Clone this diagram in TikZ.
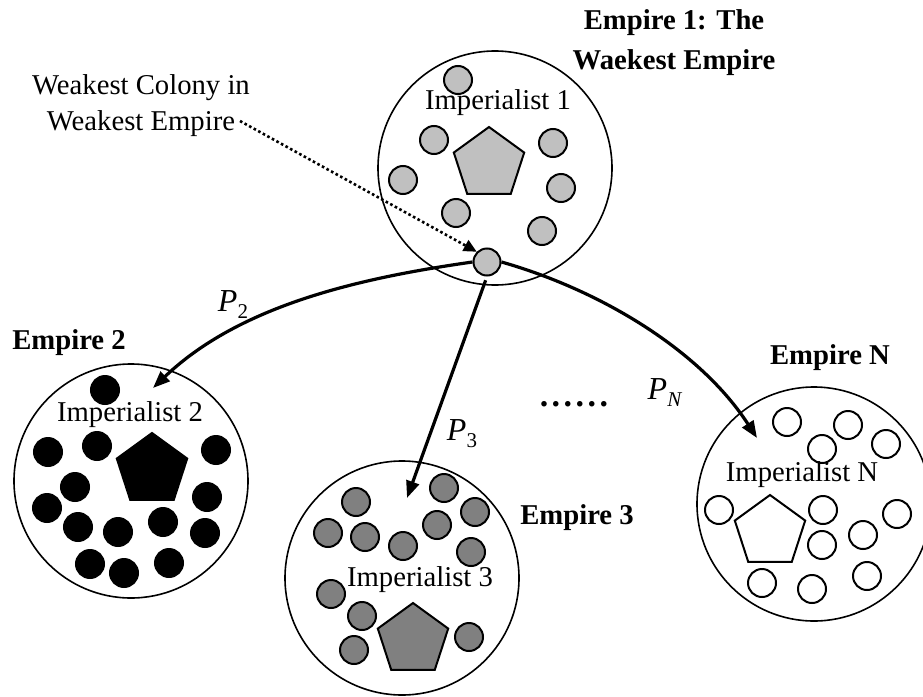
\documentclass[tikz,border=0pt]{standalone}
\usepackage{fontspec}
\setmainfont{Liberation Serif}
\usetikzlibrary{shapes.geometric,arrows.meta}
\definecolor{lightcol}{RGB}{192,192,192}
\definecolor{darkcol}{RGB}{128,128,128}
\newcommand{\lowsub}[1]{\raisebox{-7pt}{\fontsize{21}{21}\selectfont #1}}
\begin{document}
\begin{tikzpicture}[x=1pt,y=-1pt,
  empire/.style={circle,draw,line width=1.6pt,minimum size=234pt,inner sep=0pt},
  colony/.style={circle,draw,line width=2pt,minimum size=28pt,inner sep=0pt},
  imperialist/.style={regular polygon,regular polygon sides=5,draw,line width=2pt,minimum size=74pt,inner sep=0pt},
  txt/.style={font=\fontsize{28.7}{36}\selectfont,inner sep=0pt},
  plabel/.style={font=\fontsize{32}{36}\selectfont,inner sep=0pt},
  bold/.style={font=\fontsize{28.7}{40}\selectfont\bfseries,inner sep=0pt,align=center},
  conn/.style={line width=3.2pt,-{Triangle[length=17pt,width=13pt]}},
  pointer/.style={line width=2.6pt,dash pattern=on 2.6pt off 2.6pt,-{Triangle[length=13pt,width=12pt]}}
]
\path[use as bounding box] (0,0) rectangle (923,696);

% ---- Empire 1 (the weakest) ----
\node[empire] (emp1) at (495,168) {};
\foreach \x/\y [count=\i] in {458/80, 434/140, 553/143, 403/180, 561/188, 456/213, 542/231}
  \node[colony,fill=lightcol] (c1-\i) at (\x,\y) {};
\node[imperialist,fill=lightcol] (imp1) at (489,164) {};
\node[txt] (lab-imp1) at (498,103) {Imperialist 1};
\node[colony,fill=lightcol,minimum size=27pt] (weak) at (487,262) {};
\node[bold] (title1) at (674,43) {Empire 1: The\\Waekest Empire};

% ---- Empire 2 ----
\node[empire] (emp2) at (131,481) {};
\foreach \x/\y [count=\i] in {105/390, 48/452, 97/446, 216/450, 75/487, 207/497, 47/508,
    78/527, 118/532, 163/522, 205/533, 90/564, 124/573, 169/563}
  \node[colony,fill=black] (c2-\i) at (\x,\y) {};
\node[imperialist,fill=black] (imp2) at (152,470) {};
\node[txt] (lab-imp2) at (130,415) {Imperialist 2};
\node[bold] (title2) at (69,343) {Empire 2};

% ---- Empire 3 ----
\node[empire] (emp3) at (402,578) {};
\foreach \x/\y [count=\i] in {356/502, 444/488, 328/533, 365/537, 403/546, 437/525,
    475/512, 471/552, 331/594, 362/616, 354/650, 469/637}
  \node[colony,fill=darkcol] (c3-\i) at (\x,\y) {};
\node[imperialist,fill=darkcol] (imp3) at (413,640) {};
\node[txt] (lab-imp3) at (420,580) {Imperialist 3};
\node[bold] (title3) at (577,518) {Empire 3};

% ---- Empire N ----
\node[empire] (empN) at (814,504) {};
\foreach \x/\y [count=\i] in {787/422, 848/425, 822/449, 886/444, 719/510, 823/510,
    897/514, 822/545, 863/535, 762/583, 812/589, 867/576}
  \node[colony,fill=white] (cN-\i) at (\x,\y) {};
\node[imperialist,fill=white] (impN) at (770,532) {};
\node[txt] (lab-impN) at (802,475) {Imperialist N};
\node[bold] (titleN) at (830,358) {Empire N};

% ---- annotation for the weakest colony ----
\node[txt,align=center] (note) at (141,106) {Weakest Colony in\\Weakest Empire};
\coordinate (note-end) at (240,121);
\draw[pointer] (note-end) -- (weak.north west);

% ---- colony handed to the other empires ----
\coordinate (tip2) at (153,388);
\coordinate (tip3) at (407,498);
\coordinate (tipN) at (757,438);
\draw[conn] (weak.west) .. controls (360,278) and (240,305) .. (tip2);
\draw[conn,shorten <=4pt] (weak.south) -- (tip3);
\draw[conn] (weak.east) .. controls (600,290) and (700,350) .. (tipN);

\node[plabel] (p2) at (233,305) {\textit{P}\lowsub{2}};
\node[plabel] (p3) at (462,434) {\textit{P}\lowsub{3}};
\node[plabel] (pN) at (665,393) {\textit{P}\lowsub{\textit{N}}};
\node[font=\fontsize{34}{36}\selectfont\bfseries,inner sep=0pt] (dots) at (574,404)
  {.\kern3.5pt.\kern3.5pt.\kern3.5pt.\kern3.5pt.\kern3.5pt.};
\end{tikzpicture}
\end{document}
